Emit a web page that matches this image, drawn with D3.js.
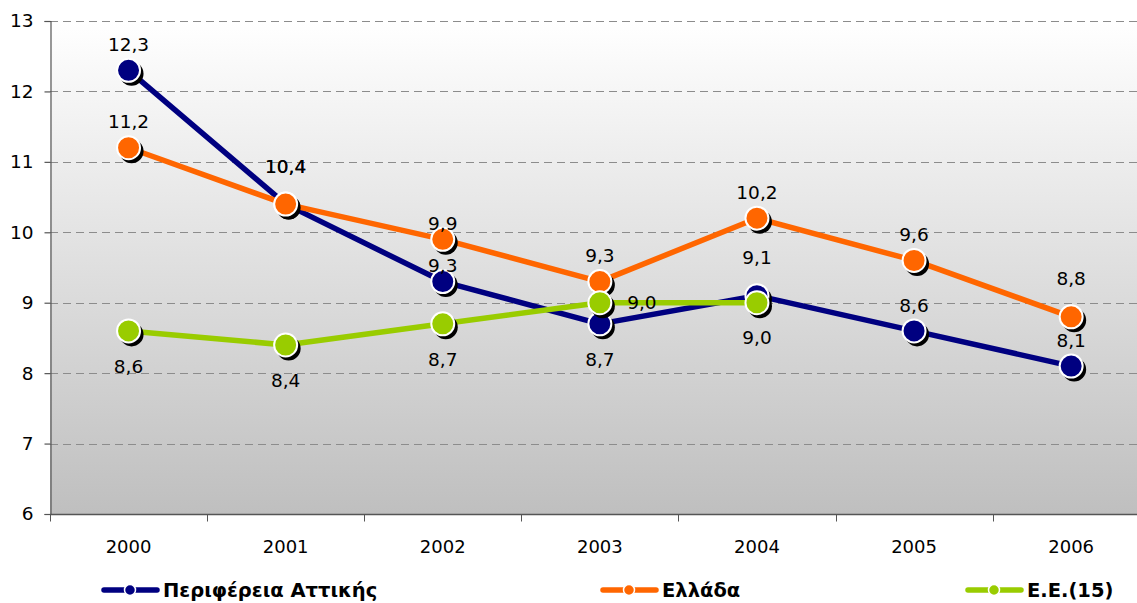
<!DOCTYPE html>
<html>
<head>
<meta charset="utf-8">
<script src="https://cdn.jsdelivr.net/npm/d3@7"></script>
<style>
  body { margin: 0; background: #fff; }
  svg { display: block; font-family: "DejaVu Sans", Verdana, sans-serif; }
</style>
</head>
<body>
<div id="chart"></div>
<script>
var years = ["2000", "2001", "2002", "2003", "2004", "2005", "2006"]
var yTicks = [6, 7, 8, 9, 10, 11, 12, 13]

var attica = [12.3, 10.4, 9.3, 8.7, 9.1, 8.6, 8.1]
var greece = [11.2, 10.4, 9.9, 9.3, 10.2, 9.6, 8.8]
var eu15 = [8.6, 8.4, 8.7, 9.0, 9.0]

// where each value label goes, relative to its marker
var atticaLabelPos = ["above", "high", "near", "below", "high", "above", "above"]
var greeceLabelPos = ["above", "high", "near", "above", "above", "above", "high"]
var eu15LabelPos = ["below", "below", "below", "right", "below"]

var series = [
    { name: "Περιφέρεια Αττικής", color: "#000080", values: attica, pos: atticaLabelPos },
    { name: "Ελλάδα", color: "#FF6600", values: greece, pos: greeceLabelPos },
    { name: "Ε.Ε.(15)", color: "#99CC00", values: eu15, pos: eu15LabelPos }
]

var W = 1137, H = 603
var margin = { left: 50, top: 21, bottom: 89 }
var plotRight = margin.left + 157.1 * years.length

var svg = d3.select("#chart").append("svg")
    .attr("width", W)
    .attr("height", H)

var x = d3.scaleBand().domain(years).range([margin.left, plotRight])
var y = d3.scaleLinear().domain([6, 13]).range([H - margin.bottom, margin.top])

var defs = svg.append("defs")
var grad = defs.append("linearGradient")
    .attr("id", "bg")
    .attr("x1", 0).attr("y1", 0).attr("x2", 0).attr("y2", 1)
grad.append("stop").attr("offset", "0%").attr("stop-color", "#ffffff")
grad.append("stop").attr("offset", "100%").attr("stop-color", "#bfbfbf")

svg.append("rect")
    .attr("x", margin.left)
    .attr("y", y(13))
    .attr("width", plotRight - margin.left)
    .attr("height", y(6) - y(13))
    .attr("fill", "url(#bg)")

// gridlines
svg.append("g")
    .selectAll("line")
    .data(yTicks.filter(function(d) { return d > 6 }))
    .enter().append("line")
    .attr("x1", margin.left)
    .attr("x2", plotRight)
    .attr("y1", function(d) { return Math.round(y(d)) + 0.5 })
    .attr("y2", function(d) { return Math.round(y(d)) + 0.5 })
    .attr("stroke", "#8c8c8c")
    .attr("stroke-width", 1)
    .attr("stroke-dasharray", "8,5")

// y axis
var yAxis = svg.append("g")
    .attr("transform", "translate(" + (margin.left + 0.5) + ",0)")
    .call(d3.axisLeft(y).tickValues(yTicks).tickFormat(d3.format("d")).tickSize(6).tickPadding(11))
yAxis.selectAll("path, line").attr("stroke", "#555").attr("stroke-width", 1.2)
yAxis.selectAll("text").attr("font-size", 18.5).attr("fill", "#000").attr("font-family", "DejaVu Sans")

// x axis with ticks between categories
var xAxisG = svg.append("g").attr("transform", "translate(0," + (Math.round(y(6)) + 0.5) + ")")
xAxisG.append("line")
    .attr("x1", margin.left).attr("x2", plotRight)
    .attr("stroke", "#555").attr("stroke-width", 1.5)
xAxisG.selectAll(".tick")
    .data(years)
    .enter().append("line")
    .attr("x1", function(d) { return Math.round(x(d)) + 0.5 })
    .attr("x2", function(d) { return Math.round(x(d)) + 0.5 })
    .attr("y1", 0).attr("y2", 7)
    .attr("stroke", "#555")
xAxisG.selectAll("text")
    .data(years)
    .enter().append("text")
    .attr("x", function(d) { return x(d) + x.bandwidth() / 2 })
    .attr("y", 38)
    .attr("text-anchor", "middle")
    .attr("font-size", 18)
    .text(function(d) { return d })

var line = d3.line()
    .x(function(d, i) { return x(years[i]) + x.bandwidth() / 2 })
    .y(function(d) { return y(d) })

var fmt = function(v) { return d3.format(".1f")(v).replace(".", ",") }

series.forEach(function(s) {
    var g = svg.append("g")
    g.append("path")
        .datum(s.values)
        .attr("d", line)
        .attr("fill", "none")
        .attr("stroke", s.color)
        .attr("stroke-width", 5.5)
        .attr("stroke-linejoin", "round")

    var pts = g.selectAll(".pt")
        .data(s.values)
        .enter().append("g")
        .attr("transform", function(d, i) {
            return "translate(" + (x(years[i]) + x.bandwidth() / 2) + "," + y(d) + ")"
        })
    pts.append("circle")
        .attr("cx", 3).attr("cy", 3.5).attr("r", 12)
        .attr("fill", "#000")
    pts.append("circle")
        .attr("r", 11.5)
        .attr("fill", s.color)
        .attr("stroke", "#fff")
        .attr("stroke-width", 2)
})

// value labels on top
series.forEach(function(s) {
    svg.append("g").selectAll("text")
        .data(s.values)
        .enter().append("text")
        .attr("x", function(d, i) {
            var cx = x(years[i]) + x.bandwidth() / 2
            return s.pos[i] == "right" ? cx + 42 : cx
        })
        .attr("y", function(d, i) {
            var p = s.pos[i]
            var dy = p == "above" ? -26 : p == "high" ? -38 : p == "near" ? -16 : p == "below" ? 35 : 0
            return y(d) + dy
        })
        .attr("dy", "0.36em")
        .attr("text-anchor", "middle")
        .attr("font-size", 18.5)
        .attr("fill", "#000")
        .text(function(d) { return fmt(d) })
})

// legend
var legendX = [102, 601, 966]
var legend = svg.append("g").attr("transform", "translate(0,590)")
series.forEach(function(s, i) {
    var lg = legend.append("g").attr("transform", "translate(" + legendX[i] + ",0)")
    lg.append("line")
        .attr("x1", 2).attr("x2", 55)
        .attr("stroke", s.color).attr("stroke-width", 5.5)
        .attr("stroke-linecap", "round")
    lg.append("circle")
        .attr("cx", 28).attr("r", 5.5)
        .attr("fill", s.color)
        .attr("stroke", "#fff").attr("stroke-width", 1.5)
    lg.append("text")
        .attr("x", 61)
        .attr("dy", "0.36em")
        .attr("font-size", 19.5)
        .attr("font-weight", "bold")
        .attr("fill", "#000")
        .text(s.name)
})
</script>
</body>
</html>
